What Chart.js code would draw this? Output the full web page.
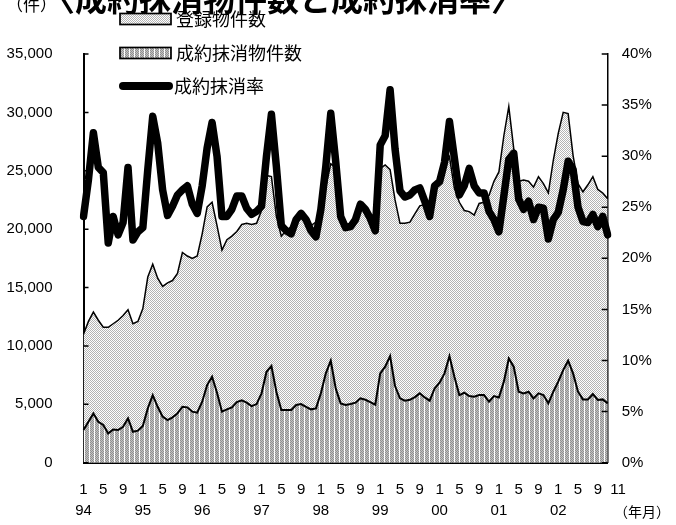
<!DOCTYPE html>
<html>
<head>
<meta charset="utf-8">
<script src="https://cdn.jsdelivr.net/npm/chart.js@4.4.1/dist/chart.umd.min.js"></script>
<style>
  html, body { margin: 0; padding: 0; background: #fff; }
</style>
</head>
<body>
<canvas id="chart" width="676" height="525"></canvas>
<script>
// 年・月のラベル
const years = ['94', '95', '96', '97', '98', '99', '00', '01', '02'];
const monthTicks = { 1: '1', 5: '5', 9: '9' };
const lastMonth = 11; // 2002年11月まで

// 登録物件数（件）
const registered = [
  11000, 12100, 12900, 12200, 11600, 11600, 11900, 12200, 12600, 13100, 11900, 12100,
  13200, 15900, 17000, 15800, 15100, 15400, 15600, 16200, 18000, 17700, 17500, 17700,
  19600, 21900, 22300, 20300, 18200, 19100, 19400, 19800, 20400, 20500, 20400, 20500,
  21600, 24600, 24500, 21100, 19400, 19900, 20200, 20600, 21100, 20600, 20300, 20600,
  21900, 23600, 25600, 25300, 21200, 20400, 20500, 20500, 21500, 21800, 21100, 20800,
  25200, 25500, 25100, 22500, 20500, 20500, 20600, 21300, 22000, 22100, 21600, 23300,
  24100, 25300, 26200, 23500, 22300, 21600, 21500, 21200, 22200, 22300, 22900, 24100,
  24900, 28000, 30500, 26900, 24100, 24200, 24100, 23600, 24500, 23900, 23100, 25900,
  28200, 30000, 29900, 26300, 23900, 23200, 23800, 24500, 23400, 23100, 22600
];

// 成約抹消物件数（件）
const contracted = [
  2800, 3500, 4220, 3500, 3230, 2510, 2850, 2800, 3080, 3800, 2650, 2740,
  3140, 4650, 5790, 4790, 3940, 3650, 3880, 4220, 4790, 4740, 4370, 4280,
  5220, 6650, 7360, 5990, 4370, 4570, 4740, 5190, 5340, 5140, 4850, 5020,
  5940, 7790, 8280, 6080, 4510, 4510, 4510, 4940, 5020, 4790, 4570, 4650,
  5940, 7650, 8730, 6360, 5080, 4940, 5020, 5140, 5510, 5390, 5190, 4970,
  7650, 8220, 9130, 6560, 5510, 5310, 5390, 5620, 5940, 5590, 5310, 6360,
  6850, 7650, 9130, 7360, 5790, 5990, 5710, 5650, 5790, 5790, 5220, 5710,
  5590, 6940, 8930, 8220, 6080, 5940, 6080, 5510, 5940, 5790, 5080, 6080,
  6940, 7930, 8730, 7650, 6080, 5420, 5420, 5880, 5370, 5420, 5080
];

// 成約抹消率（％）
const rate = [
  24.1, 27.7, 32.3, 28.9, 28.4, 21.5, 24.1, 22.3, 23.5, 28.9, 21.8, 22.6,
  23.0, 28.7, 33.9, 31.3, 26.7, 24.2, 25.1, 26.2, 26.7, 27.1, 25.3, 24.4,
  27.1, 30.8, 33.3, 30.0, 24.1, 24.1, 24.8, 26.1, 26.1, 24.9, 24.3, 24.6,
  25.1, 30.0, 34.1, 29.0, 23.2, 22.7, 22.4, 23.8, 24.4, 23.8, 22.7, 22.1,
  24.8, 29.0, 34.2, 29.5, 24.1, 23.0, 23.1, 23.8, 25.3, 24.8, 23.9, 22.7,
  31.1, 32.0, 36.5, 30.7, 26.6, 26.0, 26.2, 26.7, 26.9, 25.6, 24.1, 27.1,
  27.5, 29.4, 33.4, 29.8, 26.2, 27.1, 28.8, 27.1, 26.4, 26.4, 24.6, 23.8,
  22.6, 26.1, 29.7, 30.3, 25.8, 24.8, 25.6, 23.8, 25.0, 24.9, 21.9, 23.8,
  24.5, 26.7, 29.5, 28.7, 25.0, 23.6, 23.5, 24.3, 23.1, 24.1, 22.3
];

// 横軸ラベルを組み立てる（最後の「11」は原図どおり少し右へ寄せる）
const labels = [];
years.forEach((yy, yi) => {
  for (let m = 1; m <= 12; m++) {
    if (yi === years.length - 1 && m > lastMonth) break;
    if (yi === years.length - 1 && m === lastMonth) { labels.push('     ' + lastMonth); continue; }
    if (m === 1) labels.push([monthTicks[1], yy]);
    else labels.push(monthTicks[m] || '');
  }
});

const canvas = document.getElementById('chart');
const ctx = canvas.getContext('2d');

// 点描パターン（登録物件数）
function dotPattern() {
  const c = document.createElement('canvas');
  c.width = 2; c.height = 2;
  const g = c.getContext('2d');
  g.fillStyle = '#fff'; g.fillRect(0, 0, 2, 2);
  g.fillStyle = '#b4b4b4';
  g.fillRect(0, 0, 1, 1); g.fillRect(1, 1, 1, 1);
  return ctx.createPattern(c, 'repeat');
}

// 縦縞パターン（成約抹消物件数）
function stripePattern() {
  const c = document.createElement('canvas');
  c.width = 5; c.height = 2;
  const g = c.getContext('2d');
  g.fillStyle = '#c4c4c4'; g.fillRect(0, 0, 4, 2);
  g.fillStyle = '#909090';
  g.fillRect(0, 0, 1, 1); g.fillRect(2, 0, 1, 1);
  g.fillRect(1, 1, 1, 1); g.fillRect(3, 1, 1, 1);
  g.fillStyle = '#fff'; g.fillRect(4, 0, 1, 2);
  return ctx.createPattern(c, 'repeat');
}

const dots = dotPattern();
const stripes = stripePattern();
const tickFont = { family: '"Liberation Sans", Arial, sans-serif', size: 15, lineHeight: 1.45 };
const jpFont = '"Noto Sans CJK JP", sans-serif';

// タイトル・凡例・内向き目盛りを描く
const decor = {
  id: 'decor',
  afterDraw(chart) {
    const { ctx, chartArea: a, scales } = chart;
    ctx.save();
    ctx.strokeStyle = '#000';
    ctx.lineWidth = 1.5;
    ctx.beginPath();
    scales.y.ticks.forEach(t => {
      const py = scales.y.getPixelForValue(t.value);
      ctx.moveTo(a.left, py); ctx.lineTo(a.left + 5, py);
    });
    scales.y1.ticks.forEach(t => {
      const py = scales.y1.getPixelForValue(t.value);
      ctx.moveTo(a.right - 6, py); ctx.lineTo(a.right, py);
    });
    ctx.stroke();

    // 見出し（上端で切れている）
    ctx.fillStyle = '#000';
    ctx.textBaseline = 'alphabetic';
    ctx.textAlign = 'left';
    ctx.font = '17px ' + jpFont;
    ctx.fillText('（件）', 6, 11);
    ctx.font = 'bold 32px ' + jpFont;
    ctx.fillText('〈成約抹消物件数と成約抹消率〉', 43, 11);

    // 凡例
    ctx.textBaseline = 'middle';
    ctx.font = '18px ' + jpFont;
    const boxes = [
      { fill: dots, y: 19, text: '登録物件数' },
      { fill: stripes, y: 53, text: '成約抹消物件数' }
    ];
    boxes.forEach(b => {
      ctx.fillStyle = b.fill;
      ctx.fillRect(120, b.y - 5.5, 51, 11);
      ctx.lineWidth = 1.7;
      ctx.strokeRect(120, b.y - 5.5, 51, 11);
      ctx.fillStyle = '#000';
      ctx.fillText(b.text, 176, b.y);
    });
    ctx.lineWidth = 8;
    ctx.lineCap = 'round';
    ctx.beginPath();
    ctx.moveTo(123, 86); ctx.lineTo(169, 86);
    ctx.stroke();
    ctx.fillText('成約抹消率', 174, 86);

    // 横軸の単位
    ctx.font = '14px ' + jpFont;
    ctx.fillText('（年月）', 614, 512);
    ctx.restore();
  }
};

new Chart(ctx, {
  type: 'line',
  data: {
    labels: labels,
    datasets: [
      {
        label: '成約抹消率',
        data: rate,
        yAxisID: 'y1',
        borderColor: '#000',
        borderWidth: 7.5,
        borderJoinStyle: 'round',
        borderCapStyle: 'round',
        fill: false,
        order: 0
      },
      {
        label: '成約抹消物件数',
        data: contracted,
        yAxisID: 'y',
        borderColor: '#000',
        borderWidth: 2,
        backgroundColor: stripes,
        fill: 'origin',
        order: 1
      },
      {
        label: '登録物件数',
        data: registered,
        yAxisID: 'y',
        borderColor: '#000',
        borderWidth: 1.5,
        backgroundColor: dots,
        fill: 'origin',
        order: 2
      }
    ]
  },
  options: {
    responsive: false,
    animation: false,
    layout: { padding: { top: 54, left: 0, right: 0, bottom: 0 } },
    elements: { point: { radius: 0 }, line: { tension: 0 } },
    plugins: { legend: { display: false }, tooltip: { enabled: false } },
    scales: {
      x: {
        type: 'category',
        offset: false,
        grid: { display: false, drawTicks: false },
        border: { display: true, color: '#000', width: 2 },
        ticks: {
          autoSkip: false, maxRotation: 0, minRotation: 0,
          color: '#000', padding: 16, font: tickFont
        },
        afterFit(s) { s.height = 62.3; }
      },
      y: {
        position: 'left',
        min: 0, max: 35000,
        grid: { display: false, drawTicks: false },
        border: { display: true, color: '#000', width: 2 },
        ticks: {
          stepSize: 5000, padding: 31, color: '#000', font: tickFont,
          callback: v => v.toLocaleString('en-US')
        },
        afterFit(s) { s.width = 83.5; }
      },
      y1: {
        position: 'right',
        min: 0, max: 40,
        grid: { display: false, drawTicks: false },
        border: { display: true, color: '#000', width: 1.5 },
        ticks: {
          stepSize: 5, padding: 14, color: '#000', font: tickFont,
          callback: v => v + '%'
        },
        afterFit(s) { s.width = 68.3; }
      }
    }
  },
  plugins: [decor]
});
</script>
</body>
</html>
